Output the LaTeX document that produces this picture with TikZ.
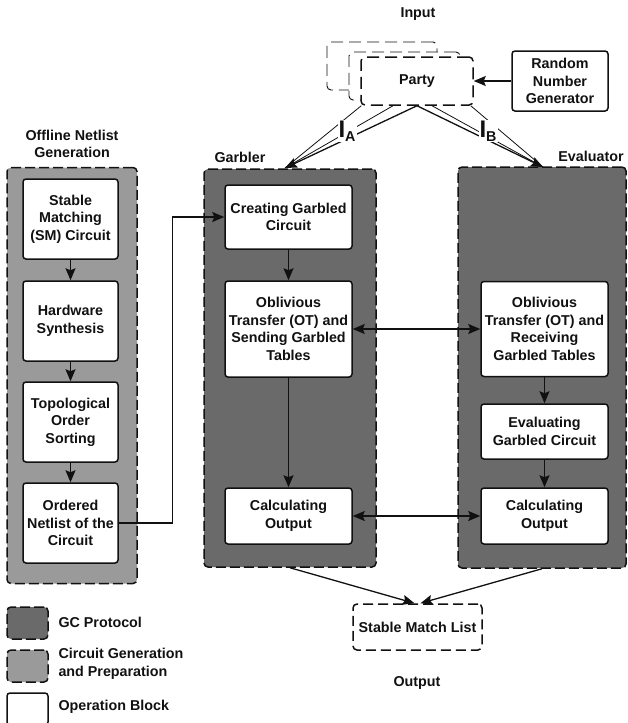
\documentclass[tikz,border=0pt]{standalone}
\usepackage{fontspec}
\setmainfont{Liberation Sans}
\usetikzlibrary{positioning, arrows.meta, calc}
\definecolor{gcgray}{HTML}{6A6A6A}
\definecolor{prepgray}{HTML}{9A9A9A}
\definecolor{ink}{HTML}{111111}
\tikzset{
    >={Stealth[length=12pt,width=10pt,inset=2pt]}, % filled arrow heads
    block/.style={draw=ink, line width=1.5pt, rounded corners=3pt, fill=white, align=center,
        inner sep=0pt, font=\bfseries\fontsize{14.3}{17.5}\selectfont, text=ink}, % operation blocks
    gcpanel/.style={draw=ink, line width=1.5pt, dash pattern=on 10pt off 4pt,
        rounded corners=4pt, fill=gcgray}, % garbler / evaluator areas
    preppanel/.style={gcpanel, fill=prepgray}, % netlist generation area
    partybox/.style={draw=ink, dash pattern=on 12pt off 6pt, rounded corners=4pt, fill=white,
        align=center, font=\bfseries\fontsize{14.3}{17.5}\selectfont, text=ink},
    title/.style={font=\bfseries\fontsize{14.3}{17.5}\selectfont, text=ink, align=center},
    flow/.style={->, draw=ink, line width=1.3pt},
    fan/.style={draw=ink, line width=0.8pt},
}

\begin{document}
\begin{tikzpicture}[x=1pt, y=-1pt]
    \useasboundingbox (0,0) rectangle (628,723);

    % input side
    \node[title] (input) at (418,14) {Input};
    \node[partybox, line width=0.9pt, minimum width=110pt, minimum height=48pt] (party3) at (382,66) {};
    \node[partybox, line width=0.9pt, minimum width=111pt, minimum height=48pt] (party2) at (404.5,76) {};
    \node[partybox, line width=1.5pt, minimum width=112pt, minimum height=48pt] (party) at (417,81) {Party};
    \node[block, minimum width=96pt, minimum height=60pt] (rng) at (560,81) {Random\\Number\\Generator};
    \draw[flow] (rng.west) -- (party.east);

    % panels
    \node[preppanel, minimum width=130pt, minimum height=416pt] (offline) at (72,375.5) {};
    \node[gcpanel, minimum width=172pt, minimum height=398pt] (garbler) at (290,368) {};
    \node[gcpanel, minimum width=168pt, minimum height=401pt] (evaluator) at (542,367.5) {};
    \node[title] (offlinetitle) at (72,144) {Offline Netlist\\Generation};
    \node[title] (garblertitle) at (240,157) {Garbler};
    \node[title] (evaluatortitle) at (591,156) {Evaluator};

    % offline netlist generation
    \node[block, minimum width=95pt, minimum height=80pt] (sm) at (70.5,219) {Stable\\Matching\\(SM) Circuit};
    \node[block, minimum width=95pt, minimum height=80pt] (hw) at (70.5,321) {Hardware\\Synthesis};
    \node[block, minimum width=95pt, minimum height=80pt] (topo) at (70.5,422) {Topological\\Order\\Sorting};
    \node[block, minimum width=95pt, minimum height=80pt] (netlist) at (70.5,523) {Ordered\\Netlist of the\\Circuit};
    \draw[flow] (sm) -- (hw);
    \draw[flow] (hw) -- (topo);
    \draw[flow] (topo) -- (netlist);

    % garbler
    \node[block, minimum width=127pt, minimum height=64pt] (create) at (288.5,217) {Creating Garbled\\Circuit};
    \node[block, minimum width=127pt, minimum height=96pt] (otsend) at (288.5,329) {Oblivious\\Transfer (OT) and\\Sending Garbled\\Tables};
    \node[block, minimum width=127pt, minimum height=56pt] (calcg) at (288.5,516) {Calculating\\Output};
    \draw[flow] (create) -- (otsend);
    \draw[flow] (otsend) -- (calcg);
    \draw[flow] (netlist.east) -- ++(54,0) |- (create.west);

    % evaluator
    \node[block, minimum width=127pt, minimum height=95pt] (otrecv) at (544.5,329) {Oblivious\\Transfer (OT) and\\Receiving\\Garbled Tables};
    \node[block, minimum width=127pt, minimum height=55pt] (evalc) at (544.5,431.5) {Evaluating\\Garbled Circuit};
    \node[block, minimum width=127pt, minimum height=56pt] (calce) at (544.5,516) {Calculating\\Output};
    \draw[flow] (otrecv) -- (evalc);
    \draw[flow] (evalc) -- (calce);
    \draw[flow, <->] (otsend) -- (otrecv);
    \draw[flow, <->] (calcg) -- (calce);

    % inputs to both parties
    \coordinate (gtip) at (285,168);
    \coordinate (etip) at (543,167);
    \draw[fan] ($(party.south west)+(1,0)$) -- (gtip);
    \draw[fan] ($(party.south)+(-24,0)$) -- (gtip);
    \draw[flow] (party.south) -- (gtip);
    \draw[fan] ($(party.south east)+(-3,0)$) -- (etip);
    \draw[fan] ($(party.south)+(15,0)$) -- (etip);
    \draw[flow] (party.south) -- (etip);
    \node[title, fill=white, inner sep=1pt] (ia) at (347,131) {{\fontsize{24}{24}\selectfont I}\raisebox{-4pt}{A}};
    \node[title, fill=white, inner sep=1pt] (ib) at (488,131) {{\fontsize{24}{24}\selectfont I}\raisebox{-4pt}{B}};

    % output
    \node[partybox, line width=1.5pt, dash pattern=on 10pt off 5pt, minimum width=129pt, minimum height=46pt] (sml) at (417.5,627) {Stable Match List};
    \draw[flow] (garbler.south) -- ($(sml.north)+(-3,0)$);
    \draw[flow] (evaluator.south) -- ($(sml.north)+(3,0)$);
    \node[title] (output) at (417,683) {Output};

    % legend
    \node[gcpanel, minimum width=41pt, minimum height=32pt] (leggc) at (27.5,623) {};
    \node[preppanel, minimum width=41pt, minimum height=32pt] (legprep) at (27.5,666) {};
    \node[block, minimum width=41pt, minimum height=32pt] (legop) at (27.5,709) {};
    \node[title, anchor=west] at (55,622) {GC Protocol};
    \node[title, anchor=west, align=left] at (55,664) {Circuit Generation\\and Preparation};
    \node[title, anchor=west] at (55,707) {Operation Block};
\end{tikzpicture}
\end{document}
